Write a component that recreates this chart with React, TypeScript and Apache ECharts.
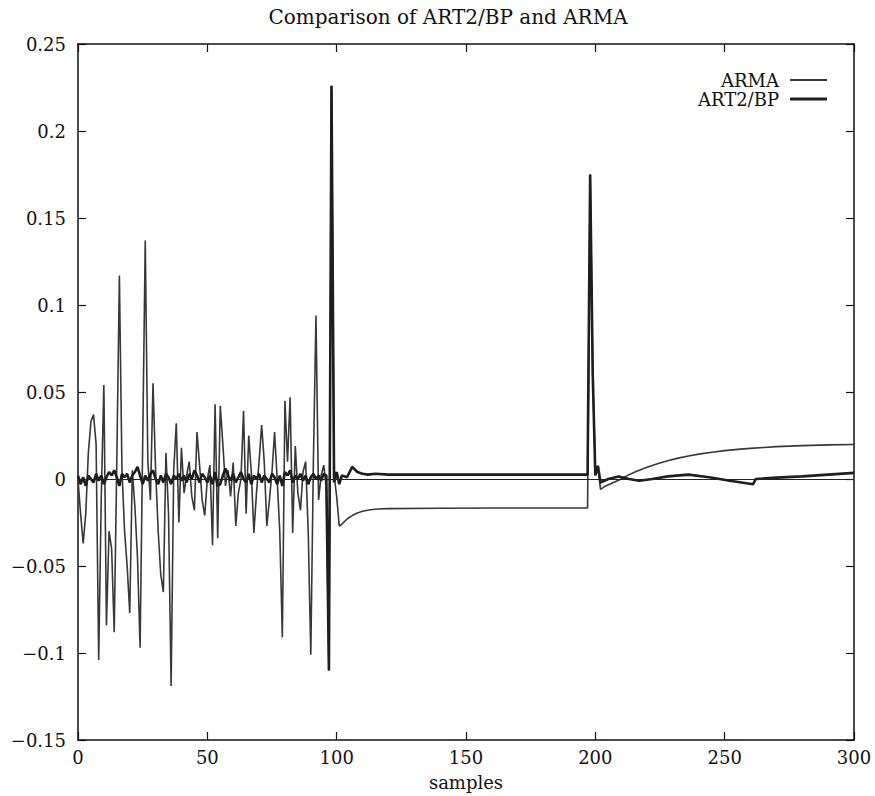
import React, { useEffect, useRef } from "react";
import * as echarts from "echarts";

const TITLE = "Comparison of ART2/BP and ARMA";
const X_LABEL = "samples";
const SERIES_NAMES = ["ARMA", "ART2/BP"];

// ARMA: sample positions and values
const armaSamples = [
  0, 1, 2, 3, 4, 5, 6, 7, 8, 9, 10, 11, 12, 13, 14, 15, 16, 17, 18, 19,
  20, 21, 22, 23, 24, 25, 26, 27, 28, 29, 30, 31, 32, 33, 34, 35, 36, 37, 38, 39,
  40, 41, 42, 43, 44, 45, 46, 47, 48, 49, 50, 51, 52, 53, 54, 55, 56, 57, 58, 59,
  60, 61, 62, 63, 64, 65, 66, 67, 68, 69, 70, 71, 72, 73, 74, 75, 76, 77, 78, 79,
  80, 81, 82, 83, 84, 85, 86, 87, 88, 89, 90, 91, 92, 93, 94, 95, 96, 97, 98, 99,
  100, 101, 102, 104, 106, 108, 110, 113, 116, 120, 140, 160, 180, 197,
  198, 199, 200, 201, 202, 204, 207, 210, 213, 216, 220, 224, 228, 232, 236,
  240, 245, 250, 255, 260, 265, 270, 280, 290, 300,
];
const armaValues = [
  0.0, -0.02, -0.037, -0.02, 0.015, 0.033, 0.037, 0.02, -0.104, -0.01,
  0.054, -0.084, -0.03, -0.04, -0.088, 0.01, 0.117, 0.005, -0.03, -0.05,
  -0.077, 0.005, -0.016, -0.045, -0.097, 0.02, 0.137, 0.01, -0.012, 0.055,
  0.005, -0.03, -0.055, -0.065, 0.015, -0.02, -0.119, 0.005, 0.032, -0.025,
  0.018, -0.008, 0.002, 0.01, -0.01, -0.018, 0.027, 0.008, -0.012, -0.021,
  0.0, 0.008, -0.038, 0.043, -0.034, 0.042, 0.02, -0.004, 0.005, -0.01,
  0.0095, -0.027, -0.008, 0.0, 0.039, -0.02, 0.025, 0.004, -0.031, -0.008,
  0.01, 0.031, 0.01, -0.027, -0.012, 0.004, 0.027, 0.0, -0.03, -0.091,
  0.045, 0.01, 0.047, -0.031, 0.019, -0.008, -0.018, 0.004, 0.01, -0.03,
  -0.101, 0.01, 0.094, -0.012, 0.002, 0.008, -0.005, -0.11, 0.226, 0.002,
  -0.01, -0.027, -0.026, -0.023, -0.021, -0.0195, -0.0185, -0.0177, -0.0172, -0.017,
  -0.0168, -0.0167, -0.0167, -0.0167,
  0.175, 0.06, 0.005, 0.0075, -0.006, -0.004, -0.002, 0.0, 0.0025, 0.0045,
  0.0068, 0.0088, 0.0105, 0.012, 0.0132,
  0.0143, 0.0154, 0.0163, 0.017, 0.0176, 0.0181, 0.0186, 0.0192, 0.0196, 0.0198,
];

// ART2/BP: sample positions and values
const artSamples = [
  0, 1, 2, 3, 4, 5, 6, 7, 8, 9, 10, 11, 12, 13, 14, 15, 16, 17, 18, 19,
  20, 21, 22, 23, 24, 25, 26, 27, 28, 29, 30, 31, 32, 33, 34, 35, 36, 37, 38, 39,
  40, 41, 42, 43, 44, 45, 46, 47, 48, 49, 50, 51, 52, 53, 54, 55, 56, 57, 58, 59,
  60, 61, 62, 63, 64, 65, 66, 67, 68, 69, 70, 71, 72, 73, 74, 75, 76, 77, 78, 79,
  80, 81, 82, 83, 84, 85, 86, 87, 88, 89, 90, 91, 92, 93, 94, 95, 96, 97, 98, 99,
  100, 101, 102, 104, 106, 108, 110, 112, 115, 120, 150, 197,
  198, 199, 200, 201, 202, 205, 209, 213, 217, 222, 228, 236, 244, 252, 261,
  262, 270, 280, 290, 300,
];
const artValues = [
  0.002, -0.003, 0.001, -0.004, 0.002, 0.0, -0.002, 0.003, -0.001, 0.002,
  -0.003, 0.001, 0.004, 0.002, 0.005, 0.001, -0.004, 0.003, 0.001, 0.003,
  -0.002, 0.002, 0.004, 0.007, 0.002, -0.003, 0.002, -0.001, 0.003, 0.005,
  0.0, -0.003, 0.002, -0.002, 0.003, 0.001, -0.003, 0.002, 0.0, 0.003,
  -0.001, 0.002, -0.002, 0.003, 0.0, 0.005, 0.002, -0.002, 0.003, 0.001,
  -0.002, 0.002, -0.003, 0.004, -0.004, -0.003, 0.002, 0.006, 0.002, -0.001,
  0.003, -0.002, 0.001, 0.004, 0.0, -0.002, 0.003, -0.003, 0.002, 0.0,
  0.003, -0.002, 0.002, 0.0, -0.002, 0.003, 0.001, -0.003, 0.002, -0.004,
  0.004, 0.002, 0.005, -0.002, 0.002, 0.0, 0.003, -0.001, 0.002, -0.003,
  0.001, 0.003, 0.0, 0.002, -0.001, 0.003, 0.002, -0.11, 0.226, -0.002,
  0.004, -0.003, 0.002, 0.001, 0.007, 0.004, 0.003, 0.0025, 0.003, 0.0025,
  0.0025, 0.0025,
  0.175, 0.06, 0.002, 0.0075, -0.002, 0.0, 0.0015, 0.0, -0.001, 0.0,
  0.0015, 0.0025, 0.001, -0.001, -0.003,
  0.0, 0.0008, 0.0015, 0.0025, 0.0035,
];

const X_MIN = 0;
const X_MAX = 300;
const X_STEP = 50;
const Y_MIN = -0.15;
const Y_MAX = 0.25;
const Y_STEP = 0.05;

const FONT = "DejaVu Serif";

function fmtY(v: number): string {
  const r = Math.round(v * 100) / 100;
  if (r === 0) return "0";
  const s = String(Math.abs(r));
  return (r < 0 ? "\u2212" : "") + s;
}

export default function App() {
  const ref = useRef<HTMLDivElement>(null);
  useEffect(() => {
    if (!ref.current) return;
    const chart = echarts.init(ref.current, undefined, { renderer: "svg" });
    const arma = armaSamples.map((s, i) => [s, armaValues[i]]);
    const art = artSamples.map((s, i) => [s, artValues[i]]);
    const axisLine = { show: true, onZero: false, lineStyle: { color: "#111", width: 1.5 } };
    const tick = { show: true, inside: true, length: 8, lineStyle: { color: "#111", width: 1.2 } };
    const labelStyle = { fontFamily: FONT, fontSize: 18, color: "#111" };
    const legendBase = {
      right: 43,
      align: "right",
      orient: "vertical",
      icon: "rect",
      itemWidth: 37,
      itemGap: 4,
      textStyle: { ...labelStyle, padding: [0, 6, 0, 0] },
    };
    chart.setOption({
      animation: false,
      backgroundColor: "#fff",
      title: {
        text: TITLE,
        left: 443,
        textAlign: "center",
        top: 2,
        textStyle: { fontFamily: FONT, fontSize: 20, fontWeight: "normal", color: "#111" },
      },
      legend: [
        { ...legendBase, data: [SERIES_NAMES[0]], top: 66, itemHeight: 2 },
        { ...legendBase, data: [SERIES_NAMES[1]], top: 85, itemHeight: 3 },
      ],
      grid: { left: 78, right: 21, top: 44, bottom: 56, containLabel: false },
      xAxis: [
        {
          type: "value",
          min: X_MIN,
          max: X_MAX,
          interval: X_STEP,
          name: X_LABEL,
          nameLocation: "middle",
          nameGap: 33,
          nameTextStyle: labelStyle,
          axisLine,
          axisTick: tick,
          axisLabel: { ...labelStyle, margin: 8 },
          splitLine: { show: false },
        },
        {
          type: "value",
          position: "top",
          min: X_MIN,
          max: X_MAX,
          interval: X_STEP,
          axisLine,
          axisTick: tick,
          axisLabel: { show: false },
          splitLine: { show: false },
        },
      ],
      yAxis: [
        {
          type: "value",
          min: Y_MIN,
          max: Y_MAX,
          interval: Y_STEP,
          axisLine,
          axisTick: tick,
          axisLabel: { ...labelStyle, margin: 12, formatter: fmtY },
          splitLine: { show: false },
        },
        {
          type: "value",
          position: "right",
          min: Y_MIN,
          max: Y_MAX,
          interval: Y_STEP,
          axisLine,
          axisTick: tick,
          axisLabel: { show: false },
          splitLine: { show: false },
        },
      ],
      series: [
        {
          name: SERIES_NAMES[0],
          type: "line",
          data: arma,
          showSymbol: false,
          symbol: "none",
          lineStyle: { color: "#383838", width: 1.6 },
          itemStyle: { color: "#383838" },
          z: 2,
          markLine: {
            silent: true,
            symbol: ["none", "none"],
            label: { show: false },
            lineStyle: { color: "#222", width: 1, type: "solid" },
            data: [{ yAxis: 0 }],
          },
        },
        {
          name: SERIES_NAMES[1],
          type: "line",
          data: art,
          showSymbol: false,
          symbol: "none",
          lineStyle: { color: "#1e1e1e", width: 2.6 },
          itemStyle: { color: "#1e1e1e" },
          z: 3,
        },
      ],
    });
    return () => chart.dispose();
  }, []);
  return (
    <div
      ref={ref}
      style={{ position: "fixed", left: 0, top: 0, width: 875, height: 796, background: "#fff" }}
    />
  );
}
